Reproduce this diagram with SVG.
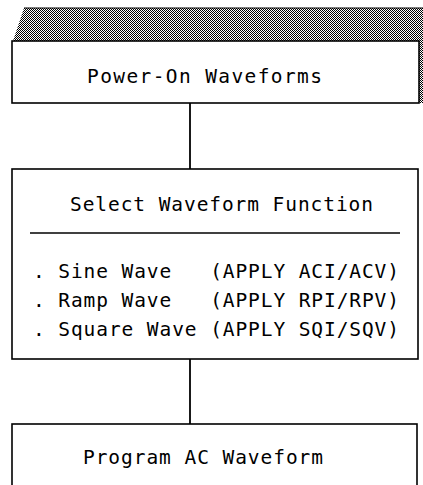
<svg xmlns="http://www.w3.org/2000/svg" width="423" height="485" viewBox="0 0 423 485">
  <defs>
    <pattern id="hatch" width="2" height="2" patternUnits="userSpaceOnUse">
      <rect width="2" height="2" fill="#ffffff"/>
      <rect x="0" y="0" width="1" height="1" fill="#000"/>
      <rect x="1" y="1" width="1" height="1" fill="#000"/>
    </pattern>
    <style>
      .box { fill: #ffffff; stroke: #000; stroke-width: 1.6; }
      .conn { stroke: #000; stroke-width: 1.8; fill: none; }
      .t { font-family: "DejaVu Sans Mono", "Liberation Mono", monospace; font-size: 19.5px; fill: #000; white-space: pre; }
    </style>
  </defs>
  <rect width="423" height="485" fill="#ffffff"/>

  <g id="connectors">
    <line class="conn" x1="190" y1="103" x2="190" y2="169"/>
    <line class="conn" x1="190" y1="359" x2="190" y2="424"/>
  </g>

  <g id="node-power-on">
    <polygon points="24,8 423,8 423,103 419,103 419,41 13,41" fill="url(#hatch)"/>
    <line x1="24" y1="8" x2="423" y2="8" stroke="#000" stroke-width="1.2"/>
    <rect class="box" x="12" y="41" width="407" height="62"/>
    <text class="t" x="87" y="83" textLength="235" lengthAdjust="spacing">Power-On Waveforms</text>
  </g>

  <g id="node-select">
    <rect class="box" x="12" y="169" width="406" height="190"/>
    <text class="t" x="70" y="211" textLength="303" lengthAdjust="spacing">Select Waveform Function</text>
    <line x1="30" y1="233" x2="400" y2="233" stroke="#000" stroke-width="1.6"/>
    <text class="t" x="33" y="278" textLength="366" lengthAdjust="spacing">. Sine Wave   (APPLY ACI/ACV)</text>
    <text class="t" x="33" y="307" textLength="366" lengthAdjust="spacing">. Ramp Wave   (APPLY RPI/RPV)</text>
    <text class="t" x="33" y="336" textLength="366" lengthAdjust="spacing">. Square Wave (APPLY SQI/SQV)</text>
  </g>

  <g id="node-program">
    <rect class="box" x="12" y="424" width="405" height="80"/>
    <text class="t" x="83" y="464" textLength="240" lengthAdjust="spacing">Program AC Waveform</text>
  </g>
</svg>
